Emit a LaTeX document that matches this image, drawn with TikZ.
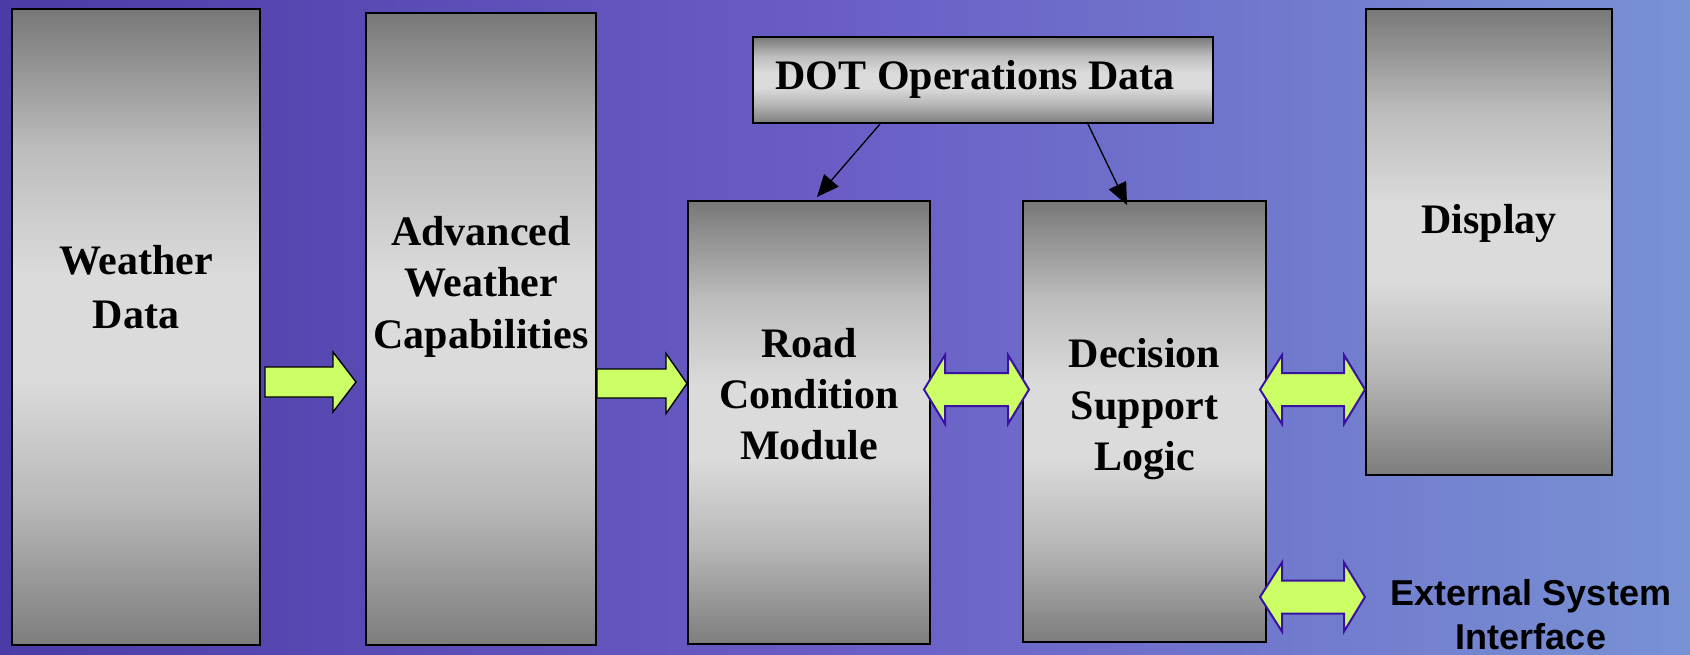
\documentclass[tikz,border=0pt]{standalone}
\usepackage{fontspec}
\setmainfont{Liberation Serif}
\newfontfamily\arialfont{Liberation Sans}
\usetikzlibrary{arrows.meta}
\pgfdeclareverticalshading{boxshade}{100bp}{gray(0bp)=(0.49); gray(25bp)=(0.49); gray(36bp)=(0.72); gray(46bp)=(0.86); gray(54bp)=(0.86); gray(64bp)=(0.74); gray(75bp)=(0.47); gray(100bp)=(0.47)}
\definecolor{bgL}{HTML}{4B3BA6}
\definecolor{bgM}{HTML}{6A5EC6}
\definecolor{bgR}{HTML}{7892D4}
\definecolor{arrfill}{HTML}{CCFF66}
\definecolor{arrline}{HTML}{3A12A0}
\newcommand\blkR[6]{\draw[sarrow] (#1,{#3-#4}) -- (#6,{#3-#4}) -- (#6,{#3-#5}) -- (#2,#3) -- (#6,{#3+#5}) -- (#6,{#3+#4}) -- (#1,{#3+#4}) -- cycle;}
\newcommand\blkD[7]{\draw[darrow] (#1,#3) -- (#6,{#3-#5}) -- (#6,{#3-#4}) -- (#7,{#3-#4}) -- (#7,{#3-#5}) -- (#2,#3) -- (#7,{#3+#5}) -- (#7,{#3+#4}) -- (#6,{#3+#4}) -- (#6,{#3+#5}) -- cycle;}
\begin{document}
\begin{tikzpicture}[x=1pt,y=-1pt,
  box/.style={draw=black, line width=1.5pt, shading=boxshade, inner sep=0pt, outer sep=0pt},
  txt/.style={font=\bfseries\fontsize{42}{50}\selectfont, inner sep=0pt, anchor=base},
  etxt/.style={font=\arialfont\bfseries\fontsize{36}{44}\selectfont, inner sep=0pt, anchor=base},
  sarrow/.style={draw=black, line width=1.4pt, fill=arrfill, line join=miter},
  darrow/.style={draw=arrline, line width=2pt, fill=arrfill, line join=miter},
  larrow/.style={draw=black, line width=1.3pt, -{Triangle[length=22pt,width=19pt]}}]
\useasboundingbox (0,0) rectangle (1690,655);
\shade[left color=bgL, right color=bgR, middle color=bgM] (0,0) rectangle (1690,655);
% boxes
\node[box, minimum width=248pt, minimum height=636pt] (wd) at (136,327) {};
\node[box, minimum width=230pt, minimum height=632pt] (awc) at (481,329) {};
\node[box, minimum width=242pt, minimum height=443pt] (rcm) at (809,422.5) {};
\node[box, minimum width=243pt, minimum height=441pt] (dsl) at (1144.5,421.5) {};
\node[box, minimum width=246pt, minimum height=466pt] (disp) at (1489,242) {};
\node[box, minimum width=460pt, minimum height=86pt] (dot) at (983,80) {};
% texts
\node[txt] (wd1) at (136,275) {Weather};
\node[txt] (wd2) at (136,328) {Data};
\node[txt] (awc1) at (481,246) {Advanced};
\node[txt] (awc2) at (481,297) {Weather};
\node[txt] (awc3) at (481,348) {Capabilities};
\node[txt] (rcm1) at (809,357) {Road};
\node[txt] (rcm2) at (809,408) {Condition};
\node[txt] (rcm3) at (809,459) {Module};
\node[txt] (dsl1) at (1144.5,367) {Decision};
\node[txt] (dsl2) at (1144.5,419) {Support};
\node[txt] (dsl3) at (1144.5,470) {Logic};
\node[txt] (disp1) at (1489,234) {Display};
\node[txt] (dot1) at (975,90) {DOT Operations Data};
\node[etxt] (ext1) at (1531,605) {External System};
\node[etxt] (ext2) at (1531,649) {Interface};
% block arrows
\blkR{265}{356}{382}{15}{30}{333}
\blkR{597}{687}{383.5}{14.5}{30}{666}
\blkD{924}{1029}{389.5}{16.5}{34.5}{945}{1008}
\blkD{1260}{1365}{389.5}{16.5}{34.5}{1282}{1344}
\blkD{1260}{1365}{597}{16.5}{34.5}{1282}{1344}
% line arrows
\coordinate (d1s) at (880,124);
\coordinate (d1e) at (817,197);
\coordinate (d2s) at (1087,122);
\coordinate (d2e) at (1127,205);
\draw[larrow] (d1s) -- (d1e);
\draw[larrow] (d2s) -- (d2e);
\end{tikzpicture}
\end{document}
